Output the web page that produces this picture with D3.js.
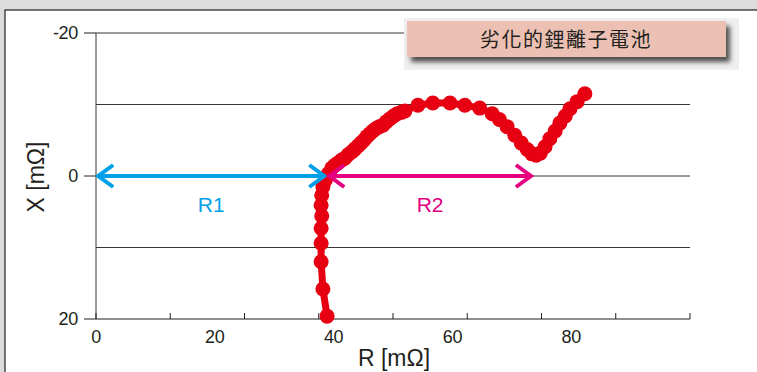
<!DOCTYPE html>
<html>
<head>
<meta charset="utf-8">
<script src="https://cdn.jsdelivr.net/npm/d3@7"></script>
<style>
  body { margin: 0; background: #dcdcdc; }
  svg { display: block; font-family: "Liberation Sans", Arial, sans-serif; }
</style>
</head>
<body>
<svg id="chart" width="757" height="372"></svg>
<script>
// Nyquist plot of a degraded Li-ion cell: R (real) vs X (imaginary), mOhm
const rValues = [38.9, 38.2, 37.9, 37.9, 37.9, 38.0, 37.9, 38.0, 38.2, 38.6, 39.1, 39.7, 40.2,
  40.7, 41.3, 41.9, 42.5, 43.1, 43.6, 44.1, 44.6, 45.1, 45.6, 46.1, 46.6, 47.1, 47.7, 48.3,
  48.9, 49.5, 50.1, 50.7, 51.4, 52.0, 54.2, 56.7, 59.6, 62.1, 64.6, 66.7, 67.9, 69.2, 70.5,
  71.6, 72.6, 73.4, 74.1, 74.8, 75.6, 76.4, 77.3, 78.1, 79.0, 79.8, 81.0, 82.3];
const xValues = [19.6, 15.8, 12.0, 9.4, 7.3, 5.6, 4.1, 2.7, 1.5, 0.6, -0.3, -1.1, -1.5,
  -1.8, -2.2, -2.5, -3.0, -3.4, -3.8, -4.2, -4.6, -5.0, -5.5, -5.9, -6.3, -6.6, -6.9, -7.1,
  -7.6, -8.0, -8.4, -8.7, -8.9, -9.1, -9.9, -10.2, -10.2, -9.9, -9.5, -8.7, -7.9, -6.9, -5.7,
  -4.6, -3.7, -3.1, -2.9, -3.2, -4.1, -5.2, -6.3, -7.4, -8.4, -9.4, -10.4, -11.5];

const yTickLabels = [-20, 0, 20];
const yGridValues = [-20, -10, 0, 10];
const xTickLabels = [0, 20, 40, 60, 80];
const xTickMarks = [0, 12.5, 25, 37.5, 50, 62.5, 75, 87.5, 100];

const arrowNames = ["R1", "R2"];
const arrowStart = [0.2, 39.1];
const arrowEnd = [38.6, 73.4];
const arrowColors = ["#00a0e9", "#e4007f"];

const title = "劣化的鋰離子電池";

const svg = d3.select("#chart");

svg.append("rect").attr("x", 5).attr("y", 10).attr("width", 800).attr("height", 400)
  .attr("fill", "#fff").attr("stroke", "#231f20").attr("stroke-width", 1.2);

const x = d3.scaleLinear().domain([0, 100]).range([96, 690]);
const y = d3.scaleLinear().domain([-20, 20]).range([33, 319]);

// grid
svg.append("g").selectAll("line").data(yGridValues).join("line")
  .attr("x1", x(0)).attr("x2", x(100))
  .attr("y1", d => y(d)).attr("y2", d => y(d))
  .attr("stroke", "#3a3536").attr("stroke-width", 1);

// y axis
svg.append("line").attr("x1", x(0)).attr("x2", x(0)).attr("y1", y(-20)).attr("y2", y(20))
  .attr("stroke", "#3a3536").attr("stroke-width", 1);
svg.append("g").selectAll("line").data(yTickLabels).join("line")
  .attr("x1", 84).attr("x2", x(0)).attr("y1", d => y(d)).attr("y2", d => y(d))
  .attr("stroke", "#231f20").attr("stroke-width", 1);
svg.append("g").selectAll("text").data(yTickLabels).join("text")
  .attr("x", 78).attr("y", d => y(d)).attr("dy", "0.36em")
  .attr("text-anchor", "end").attr("font-size", 18).attr("letter-spacing", -0.3)
  .attr("fill", "#231f20").text(d => d);

// x axis
svg.append("line").attr("x1", x(0)).attr("x2", x(100)).attr("y1", y(20)).attr("y2", y(20))
  .attr("stroke", "#231f20").attr("stroke-width", 1.2);
svg.append("g").selectAll("line").data(xTickMarks).join("line")
  .attr("x1", d => x(d)).attr("x2", d => x(d)).attr("y1", y(20)).attr("y2", y(20) - 6)
  .attr("stroke", "#231f20").attr("stroke-width", 1);
svg.append("g").selectAll("text").data(xTickLabels).join("text")
  .attr("x", d => x(d)).attr("y", 343)
  .attr("text-anchor", "middle").attr("font-size", 18).attr("letter-spacing", -0.3)
  .attr("fill", "#231f20").text(d => d);

// axis titles
svg.append("text").attr("x", 394).attr("y", 366).attr("text-anchor", "middle")
  .attr("font-size", 23).attr("fill", "#231f20").text("R [mΩ]");
svg.append("text").attr("transform", "translate(44,177) rotate(-90)").attr("text-anchor", "middle")
  .attr("font-size", 23).attr("fill", "#231f20").text("X [mΩ]");

// data curve
const pts = rValues.map((r, i) => [r, xValues[i]]);
svg.append("path").datum(pts)
  .attr("d", d3.line().x(d => x(d[0])).y(d => y(d[1])))
  .attr("fill", "none").attr("stroke", "#e60012").attr("stroke-width", 7)
  .attr("stroke-linejoin", "round");
svg.append("g").selectAll("circle").data(pts).join("circle")
  .attr("cx", d => x(d[0])).attr("cy", d => y(d[1])).attr("r", 7.5)
  .attr("fill", "#e60012");

// double-headed arrows
arrowNames.forEach((name, i) => {
  const g = svg.append("g").attr("stroke", arrowColors[i]).attr("stroke-width", 4)
    .attr("fill", "none").attr("stroke-linecap", "butt");
  const x0 = x(arrowStart[i]), x1 = x(arrowEnd[i]), yy = y(0);
  g.append("line").attr("x1", x0 + 1).attr("x2", x1 - 1).attr("y1", yy).attr("y2", yy);
  g.append("path").attr("d", `M${x0 + 16},${yy - 11}L${x0 + 1},${yy}L${x0 + 16},${yy + 11}`);
  g.append("path").attr("d", `M${x1 - 16},${yy - 11}L${x1 - 1},${yy}L${x1 - 16},${yy + 11}`);
  svg.append("text").attr("x", (x0 + x1) / 2).attr("y", 212).attr("text-anchor", "middle")
    .attr("font-size", 21).attr("fill", arrowColors[i]).text(name);
});

// title box
const defs = svg.append("defs");
const f = defs.append("filter").attr("id", "shadow").attr("x", "-10%").attr("y", "-30%")
  .attr("width", "130%").attr("height", "180%");
f.append("feDropShadow").attr("dx", 4).attr("dy", 5).attr("stdDeviation", 2.5)
  .attr("flood-color", "#333").attr("flood-opacity", 0.85);

svg.append("rect").attr("x", 404).attr("y", 18).attr("width", 335).attr("height", 52)
  .attr("fill", "#efefef");
svg.append("rect").attr("x", 407).attr("y", 21).attr("width", 319).attr("height", 36)
  .attr("fill", "#ecc1b4").attr("filter", "url(#shadow)");
svg.append("text").attr("x", 566).attr("y", 40).attr("dy", "0.35em").attr("text-anchor", "middle")
  .attr("font-family", "'Noto Sans CJK TC', sans-serif").attr("font-size", 20)
  .attr("letter-spacing", 1.5).attr("fill", "#231f20").text(title);
</script>
</body>
</html>
